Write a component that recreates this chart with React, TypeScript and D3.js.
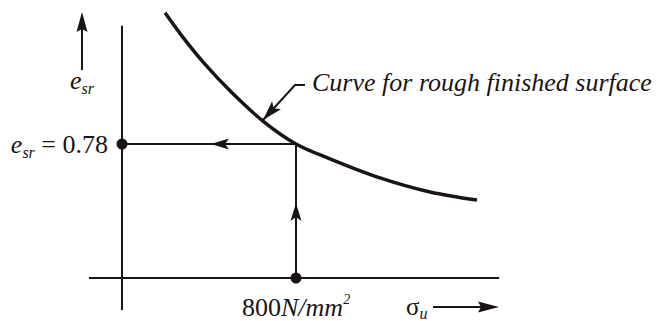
import React from "react";
import * as d3 from "d3";

// curve for rough finished surface
const sigmaValues = [499, 538, 586, 653, 724, 800, 878, 993, 1108, 1216];
const esrValues = [1.152, 1.086, 1.013, 0.925, 0.845, 0.78, 0.738, 0.684, 0.644, 0.621];

const readSigma = 800;
const readEsr = 0.78;
const originSigma = 400;
const originEsr = 0.4;
const sigmaAxisExtent = [324, 1267];
const esrAxisExtent = [0.309, 1.115];

const W = 664;
const H = 321;
const FONT = "'Liberation Serif', 'Times New Roman', Times, 'DejaVu Serif', serif";
const INK = "#1a1414";

// notched arrowhead, tip at (tx, ty), pointing along angle (radians)
function arrowHead(tx: number, ty: number, angle: number, len = 18, half = 5.5, notch = 4) {
  const c = Math.cos(angle);
  const s = Math.sin(angle);
  const pt = (along: number, across: number) =>
    [tx - c * along - s * across, ty - s * along + c * across] as [number, number];
  const p1 = pt(len, half);
  const p2 = pt(len - notch, 0);
  const p3 = pt(len, -half);
  return `M${tx},${ty}L${p1[0]},${p1[1]}L${p2[0]},${p2[1]}L${p3[0]},${p3[1]}Z`;
}

export default function App() {
  const x = d3.scaleLinear().domain([originSigma, readSigma]).range([122, 296]);
  const y = d3.scaleLinear().domain([originEsr, readEsr]).range([278, 144]);

  const pts = sigmaValues.map((s, i) => [s, esrValues[i]] as [number, number]);
  const line = d3
    .line<[number, number]>()
    .x((d) => x(d[0]))
    .y((d) => y(d[1]))
    .curve(d3.curveCatmullRom);

  const x0 = x(originSigma);
  const y0 = y(originEsr);
  const xr = x(readSigma);
  const yr = y(readEsr);

  // leader from the label to the curve
  const leaderTip: [number, number] = [263, 120];
  const leaderElbow: [number, number] = [295, 85];
  const leaderAngle = Math.atan2(leaderTip[1] - leaderElbow[1], leaderTip[0] - leaderElbow[0]);

  return (
    <svg
      width={W}
      height={H}
      style={{ position: "absolute", left: 0, top: 0, background: "#fff", fontFamily: FONT }}
    >
      {/* axes */}
      <line x1={x0} x2={x0} y1={y(esrAxisExtent[1])} y2={y(esrAxisExtent[0])} stroke={INK} strokeWidth={2} />
      <line x1={x(sigmaAxisExtent[0])} x2={x(sigmaAxisExtent[1])} y1={y0} y2={y0} stroke={INK} strokeWidth={2} />

      {/* curve */}
      <path d={line(pts) ?? ""} fill="none" stroke={INK} strokeWidth={3.5} />

      {/* reading lines */}
      <line x1={xr} x2={xr} y1={y0} y2={yr} stroke={INK} strokeWidth={2} />
      <line x1={x0} x2={xr} y1={yr} y2={yr} stroke={INK} strokeWidth={2} />
      <path d={arrowHead(xr, 203, -Math.PI / 2)} fill={INK} />
      <path d={arrowHead(211, yr, Math.PI)} fill={INK} />
      <circle cx={x0} cy={yr} r={5.5} fill={INK} />
      <circle cx={xr} cy={y0} r={5.5} fill={INK} />

      {/* leader */}
      <polyline
        points={`305,85 ${leaderElbow[0]},${leaderElbow[1]} ${leaderTip[0]},${leaderTip[1]}`}
        fill="none"
        stroke={INK}
        strokeWidth={2}
      />
      <path d={arrowHead(leaderTip[0], leaderTip[1], leaderAngle, 20, 6, 4)} fill={INK} />
      <text x={312} y={91} fontSize={26} fontStyle="italic" fill={INK}>
        Curve for rough finished surface
      </text>

      {/* y direction arrow + label */}
      <line x1={82} x2={82} y1={70} y2={20} stroke={INK} strokeWidth={2} />
      <path d={arrowHead(82, 12, -Math.PI / 2, 20, 5.5, 3)} fill={INK} />
      <text x={70} y={89} fontSize={26} fill={INK}>
        <tspan fontStyle="italic">e</tspan>
        <tspan fontStyle="italic" fontSize={16} dy={5}>sr</tspan>
      </text>

      {/* read value */}
      <text x={108} y={153} fontSize={26} fill={INK} textAnchor="end">
        <tspan fontStyle="italic">e</tspan>
        <tspan fontStyle="italic" fontSize={16} dy={5}>sr</tspan>
        <tspan dy={-5}> = 0.78</tspan>
      </text>

      {/* x label */}
      <text x={242} y={316} fontSize={26} fill={INK}>
        <tspan>800</tspan>
        <tspan fontStyle="italic">N/mm</tspan>
        <tspan fontStyle="italic" fontSize={14} dy={-12}>2</tspan>
      </text>
      <text x={406} y={315} fontSize={25} fill={INK}>
        <tspan>σ</tspan>
        <tspan fontStyle="italic" fontSize={16} dy={4}>u</tspan>
      </text>
      <line x1={433} x2={485} y1={307} y2={307} stroke={INK} strokeWidth={2} />
      <path d={arrowHead(499, 307, 0, 21, 5.5, 3)} fill={INK} />
    </svg>
  );
}
